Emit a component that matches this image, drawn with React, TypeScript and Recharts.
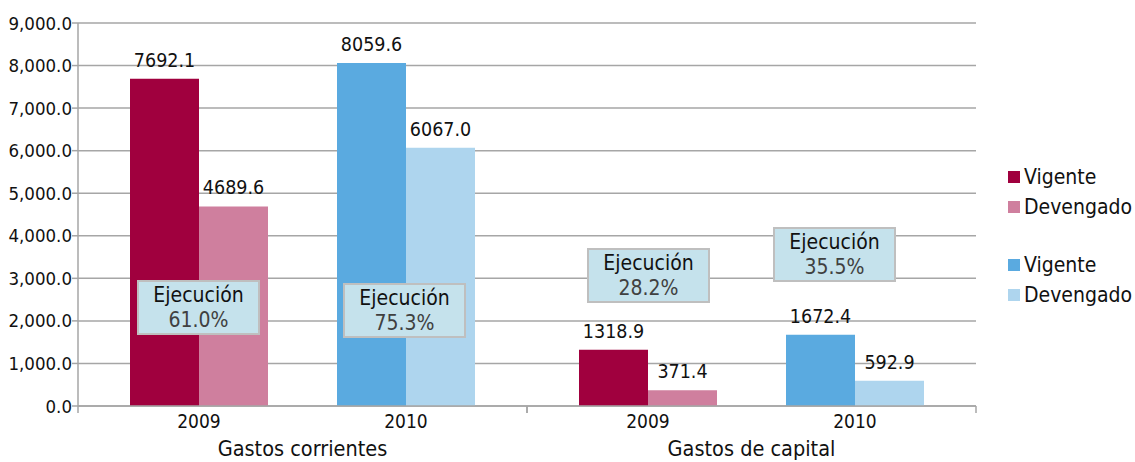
import React from "react";
import {
  BarChart,
  Bar,
  XAxis,
  YAxis,
  CartesianGrid,
  LabelList,
} from "recharts";

// Budget execution: Vigente vs Devengado, 2009 and 2010, by type of spending.

const CATEGORIES = ["Gastos corrientes", "Gastos de capital"];
const YEARS = ["2009", "2010"];
const VIGENTE_2009 = [7692.1, 1318.9];
const DEVENGADO_2009 = [4689.6, 371.4];
const VIGENTE_2010 = [8059.6, 1672.4];
const DEVENGADO_2010 = [6067.0, 592.9];
// corrientes 2009, corrientes 2010, capital 2009, capital 2010
const EJECUCION = ["61.0%", "75.3%", "28.2%", "35.5%"];
const Y_TICKS = [0, 1000, 2000, 3000, 4000, 5000, 6000, 7000, 8000, 9000];
const LEGEND = [
  { label: "Vigente", color: "#a0003e" },
  { label: "Devengado", color: "#cf7f9e" },
  { label: "Vigente", color: "#5aaae0" },
  { label: "Devengado", color: "#aed5ee" },
];

const data = CATEGORIES.map((name, i) => ({
  name,
  v2009: VIGENTE_2009[i],
  d2009: DEVENGADO_2009[i],
  v2010: VIGENTE_2010[i],
  d2010: DEVENGADO_2010[i],
}));

const FONT = "'DejaVu Sans Condensed', 'DejaVu Sans', sans-serif";
const W = 1135;
const H = 462;
const MARGIN = { top: 23, right: 159, bottom: 5, left: 8 };
const Y_W = 70;
const BAR = 69;
const BAND = (W - MARGIN.left - MARGIN.right - Y_W) / CATEGORIES.length;
const AXIS = "#a6a6a6";

const fmtTick = (v: number) =>
  v.toLocaleString("en-US", { minimumFractionDigits: 1, maximumFractionDigits: 1 });
const fmtVal = (v: any) => (typeof v === "number" ? v.toFixed(1) : "");

function CategoryTick(props: any) {
  const { x, y, payload } = props;
  return (
    <g>
      <line x1={x - BAND / 2} x2={x - BAND / 2} y1={y} y2={y + 7} stroke={AXIS} strokeWidth={1.5} />
      <line x1={x + BAND / 2} x2={x + BAND / 2} y1={y} y2={y + 7} stroke={AXIS} strokeWidth={1.5} />
      {YEARS.map((yr, i) => (
        <text
          key={yr}
          x={x + (i === 0 ? -1.5 : 1.5) * BAR}
          y={y + 22}
          textAnchor="middle"
          fontSize={19}
          fill="#111"
          fontFamily={FONT}
        >
          {yr}
        </text>
      ))}
      <text x={x} y={y + 50} textAnchor="middle" fontSize={21.5} fill="#111" fontFamily={FONT}>
        {payload.value}
      </text>
    </g>
  );
}

const BOX_POS = [
  { left: 137, top: 280 },
  { left: 343, top: 283 },
  { left: 587, top: 248 },
  { left: 773, top: 227 },
];

export default function App() {
  const label = { position: "top" as const, offset: 12, fontSize: 19.5, fill: "#111", fontFamily: FONT };
  return (
    <div
      style={{
        position: "absolute",
        left: 0,
        top: 0,
        width: W,
        height: H,
        background: "#fff",
        fontFamily: FONT,
        fontStretch: "condensed",
      }}
    >
      <BarChart width={W} height={H} data={data} margin={MARGIN} barGap={0} barSize={BAR}>
        <CartesianGrid vertical={false} stroke={AXIS} strokeWidth={1.5} />
        <XAxis
          dataKey="name"
          height={51}
          tickSize={0}
          tickMargin={0}
          tickLine={false}
          axisLine={{ stroke: AXIS, strokeWidth: 1.5 }}
          tick={<CategoryTick />}
          interval={0}
        />
        <YAxis
          width={Y_W}
          domain={[0, 9000]}
          ticks={Y_TICKS}
          interval={0}
          tickFormatter={fmtTick}
          tickSize={6}
          tickMargin={0}
          axisLine={{ stroke: AXIS, strokeWidth: 1.5 }}
          tickLine={{ stroke: AXIS, strokeWidth: 1.5 }}
          tick={{ fontSize: 18.5, fill: "#111", fontFamily: FONT }}
        />
        <Bar dataKey="v2009" fill={LEGEND[0].color} isAnimationActive={false}>
          <LabelList dataKey="v2009" formatter={fmtVal} {...label} />
        </Bar>
        <Bar dataKey="d2009" fill={LEGEND[1].color} isAnimationActive={false}>
          <LabelList dataKey="d2009" formatter={fmtVal} {...label} />
        </Bar>
        {/* empty slot between the two years */}
        <Bar dataKey="spacer" fill="none" isAnimationActive={false} />
        <Bar dataKey="v2010" fill={LEGEND[2].color} isAnimationActive={false}>
          <LabelList dataKey="v2010" formatter={fmtVal} {...label} />
        </Bar>
        <Bar dataKey="d2010" fill={LEGEND[3].color} isAnimationActive={false}>
          <LabelList dataKey="d2010" formatter={fmtVal} {...label} />
        </Bar>
      </BarChart>

      {EJECUCION.map((pct, i) => (
        <div
          key={i}
          style={{
            position: "absolute",
            left: BOX_POS[i].left,
            top: BOX_POS[i].top,
            width: 123,
            height: 55,
            boxSizing: "border-box",
            border: "2px solid #bfbfbf",
            background: "#c5e2ec",
            textAlign: "center",
            fontSize: 21,
            lineHeight: "25px",
            paddingTop: 1,
          }}
        >
          <div style={{ color: "#111" }}>Ejecución</div>
          <div style={{ color: "#404040" }}>{pct}</div>
        </div>
      ))}

      <div style={{ position: "absolute", left: 1008, top: 162, fontSize: 21 }}>
        {LEGEND.map((item, i) => (
          <div
            key={i}
            style={{
              display: "flex",
              alignItems: "center",
              height: 30,
              marginTop: i === 2 ? 28 : 0,
              color: "#111",
            }}
          >
            <span style={{ width: 12, height: 12, background: item.color, marginRight: 4 }} />
            <span>{item.label}</span>
          </div>
        ))}
      </div>
    </div>
  );
}
